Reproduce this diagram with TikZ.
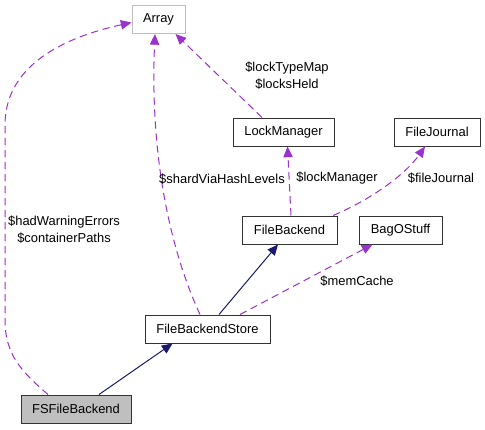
\documentclass[tikz,border=0pt]{standalone}
\usepackage{fontspec}
\setmainfont{Liberation Sans}
\usetikzlibrary{arrows.meta,calc}
\definecolor{edgepurple}{HTML}{9A32CD}
\definecolor{edgenavy}{HTML}{191970}
\definecolor{boxgray}{HTML}{BFBFBF}
\definecolor{boxline}{HTML}{333333}
\begin{document}
\begin{tikzpicture}[x=0.75pt,y=-0.75pt,
  cls/.style={draw=boxline,line width=0.75pt,minimum height=21pt,inner sep=0pt,font=\fontsize{9.7}{11}\selectfont},
  lbl/.style={inner sep=0pt,align=center,font=\fontsize{9.7}{12.75}\selectfont},
  usage/.style={draw=edgepurple,line width=0.75pt,dash pattern=on 5.5pt off 3.5pt,-{Triangle[length=8pt,width=7pt,fill=edgepurple]}},
  inherit/.style={draw=edgenavy,line width=0.75pt,-{Triangle[length=8pt,width=7pt,fill=edgenavy]}}]
\useasboundingbox (0,0) rectangle (485,429);
\fill[white] (0,0) rectangle (485,429);
% nodes
\node[cls,draw=boxgray,minimum width=39.75pt] (array) at (158.5,19.5) {Array};
\node[cls,minimum width=75.75pt] (lockmgr) at (283.5,132) {LockManager};
\node[cls,minimum width=64.5pt] (journal) at (437,132) {FileJournal};
\node[cls,minimum width=71.25pt] (backend) at (289.5,230) {FileBackend};
\node[cls,minimum width=62.25pt] (bag) at (400.5,230) {BagOStuff};
\node[cls,minimum width=93.75pt] (store) at (207.5,329) {FileBackendStore};
\node[cls,fill=boxgray,minimum width=82.5pt] (fsfb) at (76,409) {FSFileBackend};
% inheritance
\draw[inherit] ($(fsfb.north)+(23,0)$) -- ($(store.south)+(-35,0)$);
\draw[inherit] ($(store.north)+(11.5,0)$) -- ($(backend.south)+(-11.5,0)$);
% usage
\draw[usage] ($(fsfb.north)+(-28,0)$) .. controls (22,372) and (5,355) .. (5,320) -- (5,125) .. controls (5,60) and (75,35) .. ($(array.west)+(0,3)$);
\draw[usage] ($(store.north)+(-7.5,0)$) .. controls (168,245) and (150,150) .. ($(array.south)+(-3.5,0)$);
\draw[usage] ($(lockmgr.north)+(-21.5,0)$) -- ($(array.south east)+(-10,0)$);
\draw[usage] ($(backend.north)+(1.5,0)$) -- ($(lockmgr.south)+(4,0)$);
\draw[usage] ($(backend.north)+(43.5,0)$) .. controls (370,200) and (405,175) .. ($(journal.south)+(-12,0)$);
\draw[usage] ($(store.north)+(32.5,0)$) -- ($(bag.south west)+(14,0)$);
% labels
\node[lbl] (l1) at (64,229.5) {\$hadWarningErrors\\\$containerPaths};
\node[lbl] (l2) at (222,179) {\$shardViaHashLevels};
\node[lbl] (l3) at (287,75.5) {\$lockTypeMap\\\$locksHeld};
\node[lbl] (l4) at (337,178) {\$lockManager};
\node[lbl] (l5) at (441,178) {\$fileJournal};
\node[lbl] (l6) at (357,281) {\$memCache};
\end{tikzpicture}
\end{document}
